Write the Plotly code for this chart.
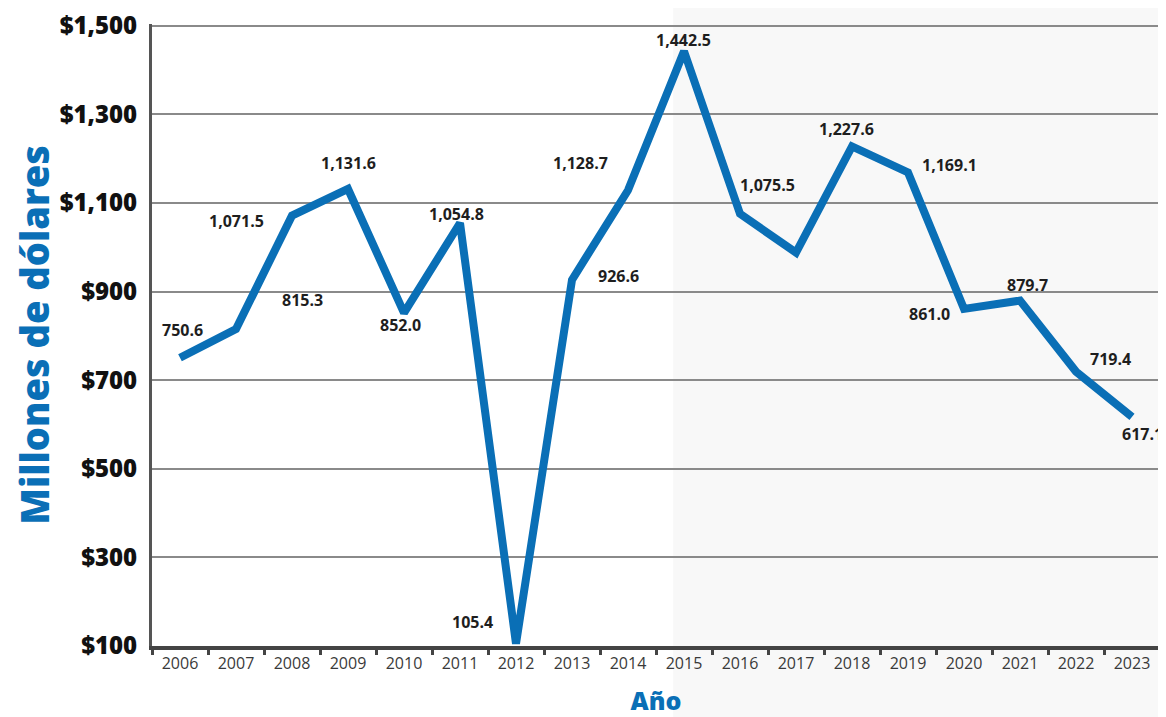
import plotly.graph_objects as go

years = [str(y) for y in range(2006, 2024)]
values = [750.6, 815.3, 1071.5, 1131.6, 852.0, 1054.8, 105.4, 926.6, 1128.7,
          1442.5, 1075.5, 988.0, 1227.6, 1169.1, 861.0, 879.7, 719.4, 617.1]
labels = ["750.6", "815.3", "1,071.5", "1,131.6", "852.0", "1,054.8", "105.4", "926.6",
          "1,128.7", "1,442.5", "1,075.5", "", "1,227.6", "1,169.1", "861.0", "879.7",
          "719.4", "617.1"]
# pixel offsets of each value label relative to its point
label_dx = [2, 66, -56, 0, -4, -4, -44, 46, -48, -1, 27, 0, -6, 41, -35, 7, 34, 10]
label_dy = [28, 29, -5, 26, -12, 9, 22, 4, 27, 11, 29, 0, 17, 7, -5, 16, 13, -17]

BLUE = "#0a6fb6"

fig = go.Figure()
fig.add_trace(go.Scatter(
    x=years, y=values, mode="lines",
    line=dict(color=BLUE, width=8),
    cliponaxis=False, hoverinfo="skip", showlegend=False,
))

annotations = []
for i, (v, t, dx, dy) in enumerate(zip(values, labels, label_dx, label_dy)):
    if not t:
        continue
    annotations.append(dict(
        x=i, y=v, xref="x", yref="y", text="<b>" + t + "</b>", showarrow=False,
        xshift=dx, yshift=dy,
        font=dict(family="Open Sans", size=16, color="#1e1e1e"),
    ))

fig.update_layout(
    width=1158, height=709,
    margin=dict(l=144, r=6, t=16, b=71, autoexpand=False),
    paper_bgcolor="white", plot_bgcolor="white",
    font=dict(family="Open Sans"),
    annotations=annotations,
    shapes=[dict(type="rect", xref="paper", yref="paper",
                 x0=0.517, x1=1.01, y0=-0.12, y1=1.03,
                 fillcolor="#f8f8f8", line=dict(width=0), layer="below")],
    xaxis=dict(
        type="category", range=[-0.5, 17.5], automargin=False,
        tickson="boundaries", ticks="outside", ticklen=5, tickwidth=3, tickcolor="#444",
        showline=True, linecolor="#444", linewidth=4,
        showgrid=False,
        tickfont=dict(family="Open Sans", size=16, color="#3a3a3a"),
        title=dict(text="Año", font=dict(family="Open Sans", size=25, color=BLUE, weight=800),
                   standoff=27),
    ),
    yaxis=dict(
        range=[100, 1504], tick0=100, dtick=200, automargin=False,
        tickprefix="$", tickformat=",",
        showgrid=True, gridcolor="#8a8a8a", gridwidth=1.5,
        zeroline=False,
        showline=True, linecolor="#555", linewidth=3,
        ticks="", ticklabelstandoff=7, ticklabeloverflow="allow",
        tickfont=dict(family="Open Sans", size=24, color="#111", weight=800),
        title=dict(text="Millones de dólares",
                   font=dict(family="Open Sans", size=38, color=BLUE, weight=800),
                   standoff=19),
    ),
)

fig.write_html("out.html")
